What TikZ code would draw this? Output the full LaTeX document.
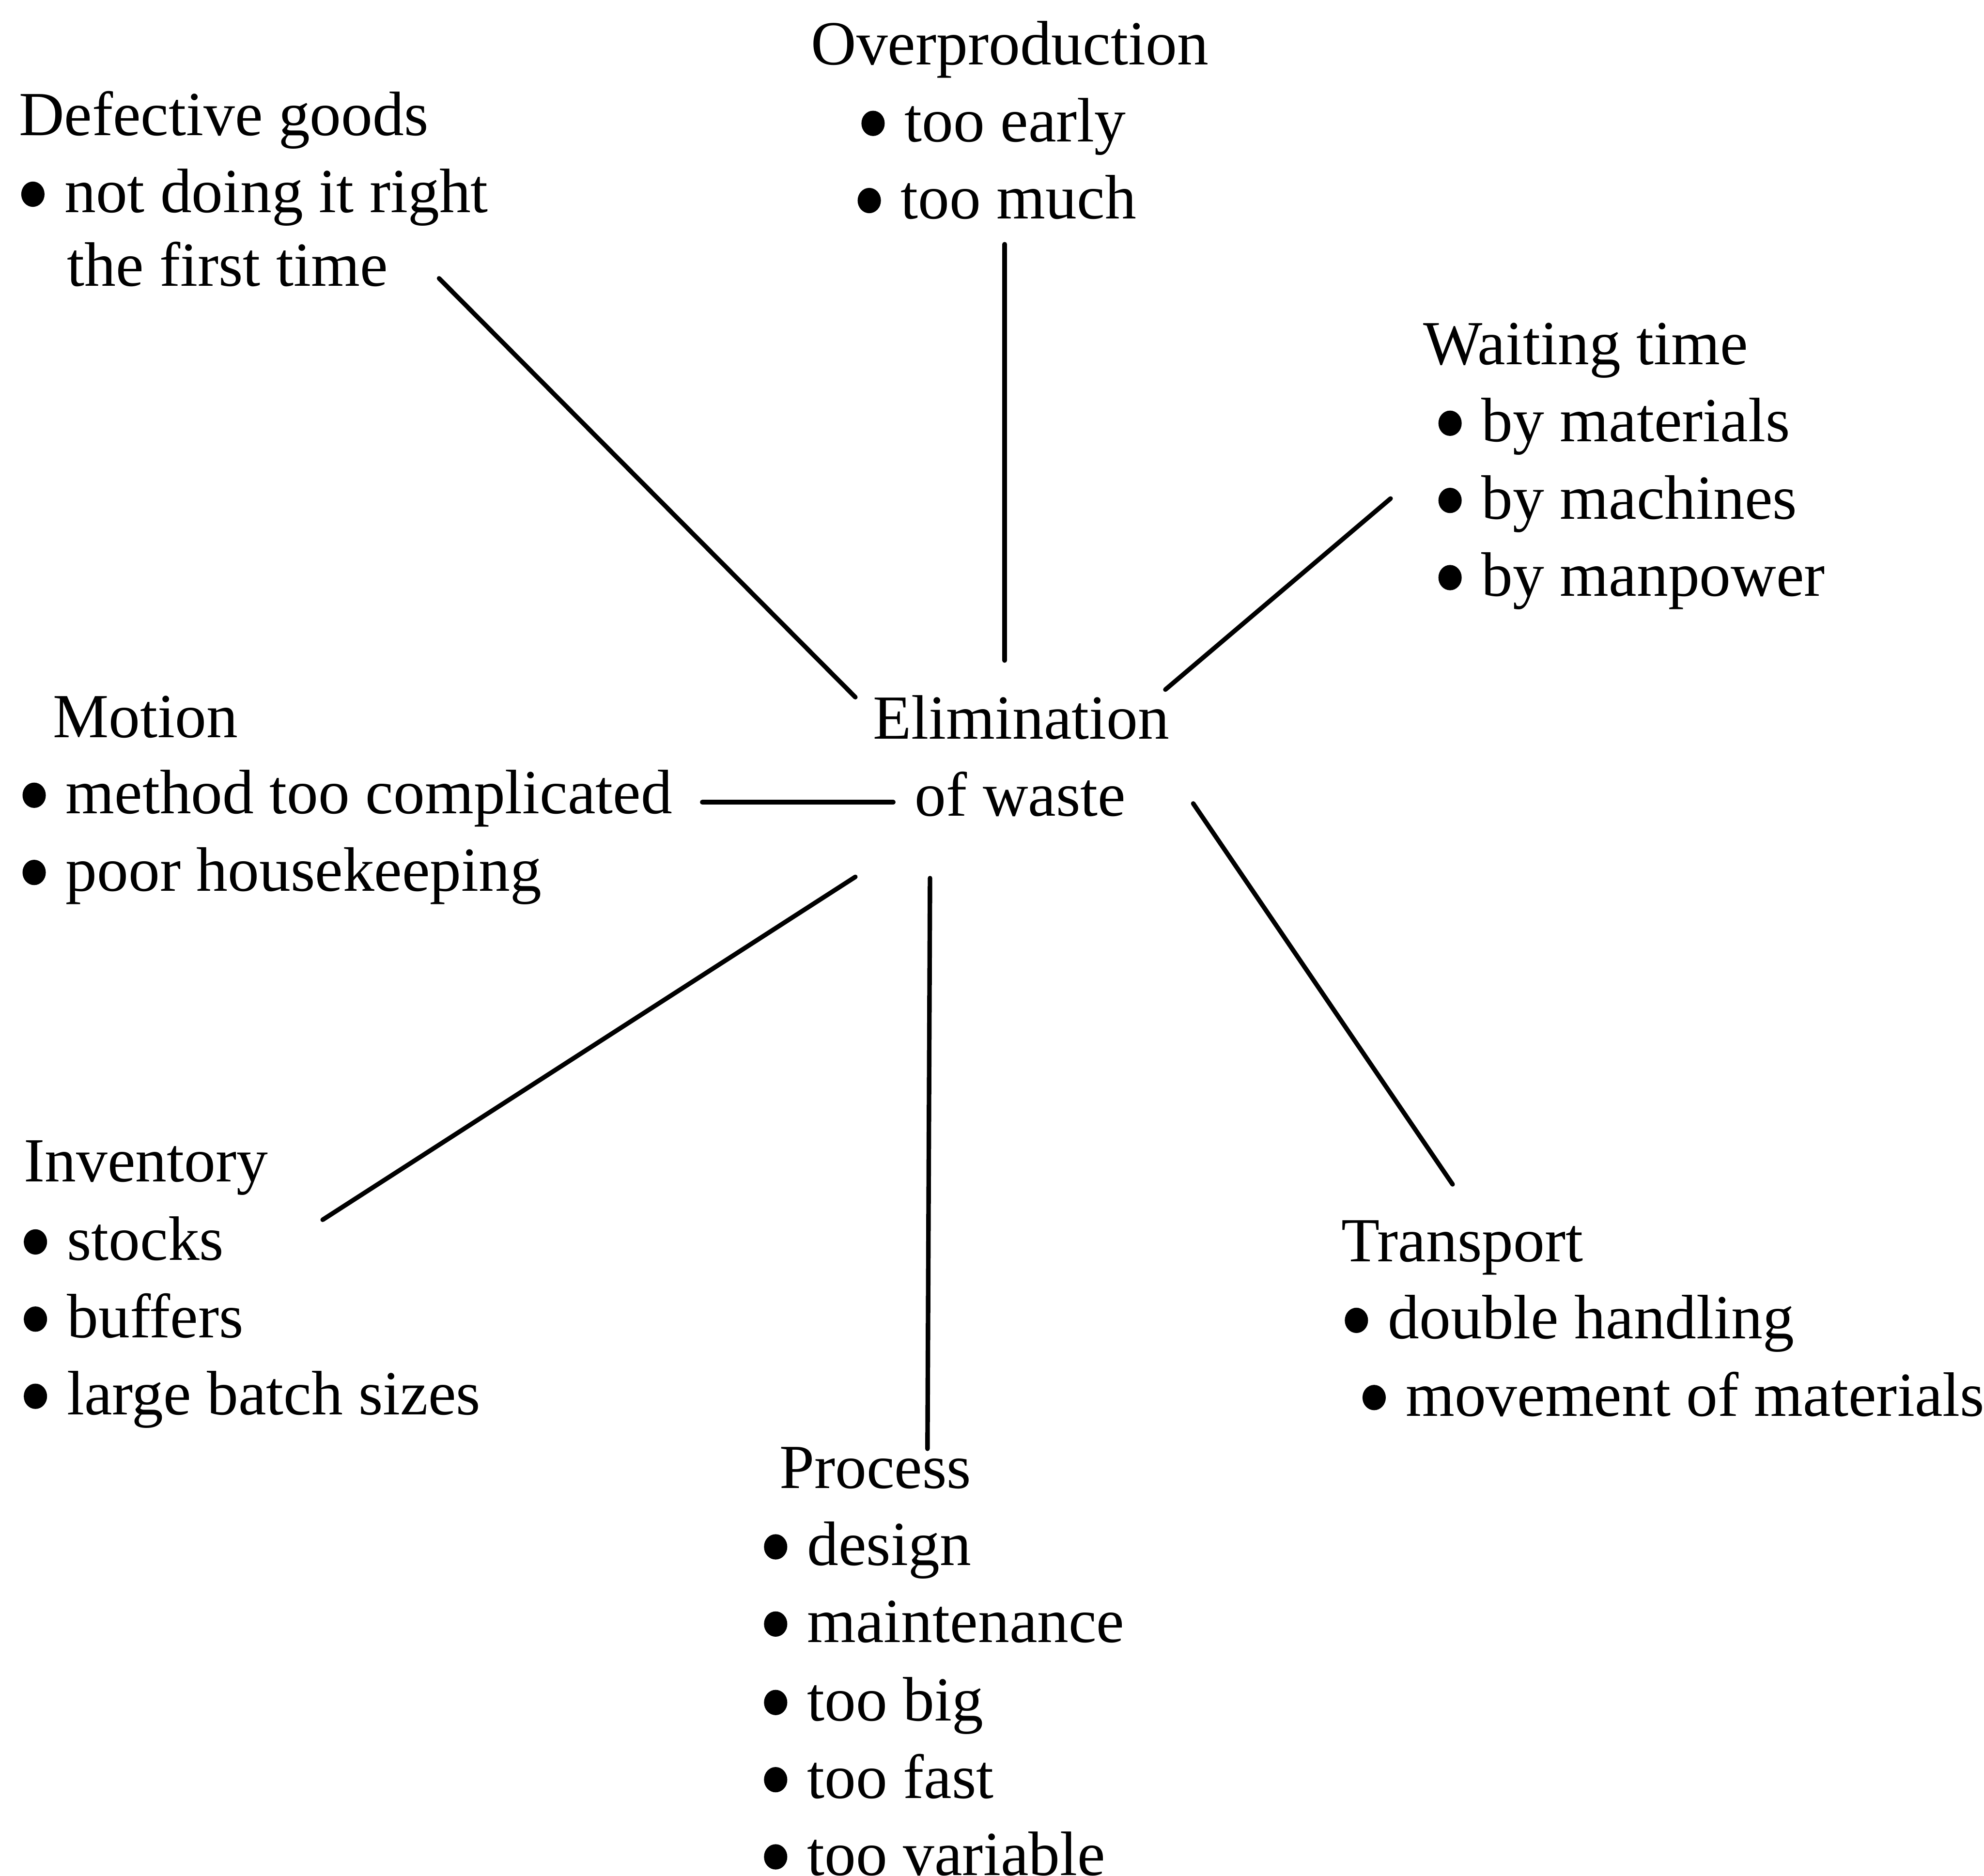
\documentclass[tikz,border=0pt]{standalone}
\usepackage{fontspec}
\setmainfont{Liberation Serif}
\newcommand\wastefont{\fontsize{24.8pt}{30.5pt}\selectfont}
\begin{document}
\begin{tikzpicture}[x=0.5pt,y=-0.5pt,
  txt/.style={anchor=base west,inner sep=0pt,outer sep=0pt,font=\wastefont},
  spoke/.style={line width=1.8pt,line cap=round}]
\useasboundingbox (0,0) rectangle (1568,1482.5);

% centre
\node[txt] (elim)  at (690,584) {Elimination};
\node[txt] (waste) at (723,645) {of waste};

% defective goods
\node[txt] (def)  at (15,107) {Defective goods};
\node[txt] (def1) at (51,168) {not doing it right};
\node[txt] (def2) at (53,226) {the first time};

% overproduction
\node[txt] (ovp)  at (641,51)  {Overproduction};
\node[txt] (ovp1) at (715,112) {too early};
\node[txt] (ovp2) at (712,173) {too much};

% waiting time
\node[txt] (wait)  at (1125,288) {Waiting time};
\node[txt] (wait1) at (1171,349) {by materials};
\node[txt] (wait2) at (1171,410) {by machines};
\node[txt] (wait3) at (1171,471) {by manpower};

% motion
\node[txt] (mot)  at (42,583) {Motion};
\node[txt] (mot1) at (52,643) {method too complicated};
\node[txt] (mot2) at (52,704) {poor housekeeping};

% inventory
\node[txt] (inv)  at (19,934)  {Inventory};
\node[txt] (inv1) at (53,996)  {stocks};
\node[txt] (inv2) at (53,1057) {buffers};
\node[txt] (inv3) at (53,1118) {large batch sizes};

% transport
\node[txt] (trn)  at (1060,997)  {Transport};
\node[txt] (trn1) at (1097,1058) {double handling};
\node[txt] (trn2) at (1111,1119) {movement of materials};

% process
\node[txt] (prc)  at (616,1176) {Process};
\node[txt] (prc1) at (638,1237) {design};
\node[txt] (prc2) at (638,1298) {maintenance};
\node[txt] (prc3) at (638,1360) {too big};
\node[txt] (prc4) at (638,1421) {too fast};
\node[txt] (prc5) at (638,1482) {too variable};

% bullets in front of the list items
\foreach \n in {def1,ovp1,ovp2,wait1,wait2,wait3,mot1,mot2,
                inv1,inv2,inv3,trn1,trn2,prc1,prc2,prc3,prc4,prc5}
  \fill ([shift={(-25,-14.5)}]\n.base west) ellipse[x radius=9.2,y radius=10];

% spoke end points
\coordinate (def-a) at (347,220);  \coordinate (def-b) at (676,551);
\coordinate (ovp-a) at (794,193);  \coordinate (ovp-b) at (794,522);
\coordinate (wait-a) at (1099,394); \coordinate (wait-b) at (921,545);
\coordinate (mot-a) at (555,634);  \coordinate (mot-b) at (706,634);
\coordinate (trn-a) at (1148,936); \coordinate (trn-b) at (943,635);
\coordinate (prc-a) at (733,1145); \coordinate (prc-b) at (735,694);
\coordinate (inv-a) at (255,964);  \coordinate (inv-b) at (676,693);

% spokes
\draw[spoke] (def-a) -- (def-b);
\draw[spoke] (ovp-a) -- (ovp-b);
\draw[spoke] (wait-a) -- (wait-b);
\draw[spoke] (mot-a) -- (mot-b);
\draw[spoke] (trn-a) -- (trn-b);
\draw[spoke] (prc-a) -- (prc-b);
\draw[spoke] (inv-a) -- (inv-b);
\end{tikzpicture}
\end{document}
